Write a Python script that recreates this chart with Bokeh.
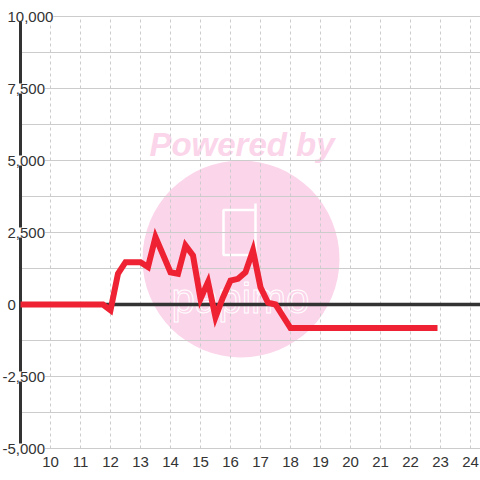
from bokeh.plotting import figure
from bokeh.models import Range1d, FixedTicker, Grid, LabelSet, ColumnDataSource
from bokeh.core.properties import value
from bokeh.embed import file_html
from bokeh.resources import INLINE

# ---- data ----
hours = [9, 11.75, 12, 12.25, 12.5, 13, 13.25, 13.5, 14, 14.25, 14.5, 14.75, 15, 15.25,
         15.5, 15.75, 16, 16.25, 16.5, 16.75, 17, 17.25, 17.5, 18, 22.9]
balance = [0, 0, -200, 1070, 1470, 1470, 1300, 2340, 1120, 1070, 2050, 1700, 200, 780,
           -440, 250, 830, 890, 1120, 1880, 600, 60, 0, -820, -820]
x_ticks = list(range(10, 25))
x_labels = [str(t) for t in x_ticks]
y_label_values = [-5000, -2500, 0, 2500, 5000, 7500, 10000]
y_labels = ["-5,000", "-2,500", "0", "2,500", "5,000", "7,500", "10,000"]
y_grid_step = 1250

# ---- layout constants ----
W, H = 480, 480
AXIS_PX = 20
X_AXIS = 9
PX_PER_X = 30.0
Y_MIN, Y_MAX = -5000, 10000
Y_TOP_PX, Y_BOTTOM_PX = 16, 448
UNITS_PER_PX_Y = (Y_MAX - Y_MIN) / (Y_BOTTOM_PX - Y_TOP_PX)
X0 = X_AXIS - AXIS_PX / PX_PER_X
X1 = X0 + W / PX_PER_X
Y1 = Y_MAX + Y_TOP_PX * UNITS_PER_PX_Y
Y0 = Y_MIN - (H - Y_BOTTOM_PX) * UNITS_PER_PX_Y

RED = "#ee2233"
PINK = "#fbd5ea"
TEXT = "#333333"
GRID = "#cccccc"
FONT = "Liberation Sans"


def px_x(px):
    return X0 + px / PX_PER_X


def px_y(py):
    return Y1 - py * UNITS_PER_PX_Y


p = figure(width=W, height=H, output_backend="svg", toolbar_location=None,
           x_range=Range1d(X0, X1), y_range=Range1d(Y0, Y1),
           x_axis_location=None, y_axis_location=None,
           min_border=0)
p.outline_line_color = None
p.background_fill_color = "white"
p.border_fill_color = "white"

for g in p.grid:
    g.visible = False

# watermark (behind the grid)
p.scatter(x=[px_x(240.5)], y=[px_y(258.5)], size=197, marker="circle",
          fill_color=PINK, line_color=None, level="image")
p.text(x=[px_x(241.5)], y=[px_y(144)], text=["Powered by"],
       text_font=value(FONT), text_font_style="bold italic", text_font_size="33px",
       text_color=PINK, text_align="center", text_baseline="alphabetic", level="image")
p.rect(x=[px_x(239)], y=[px_y(232)], width=32, height=45,
       width_units="screen", height_units="screen",
       fill_color=None, line_color="white", line_width=2.5, level="image")
p.segment(x0=[px_x(255)], y0=[px_y(210)], x1=[px_x(255)], y1=[px_y(203)],
          line_color="white", line_width=2.5, level="image")
p.text(x=[px_x(240)], y=[px_y(298)], text=["papimo"],
       text_font=value(FONT), text_font_size="42px",
       text_color=PINK, text_outline_color="white",
       text_align="center", text_baseline="alphabetic", level="image")

# grids
n_steps = int((Y_MAX - Y_MIN) / y_grid_step)
ygrid = Grid(dimension=1,
             ticker=FixedTicker(ticks=[Y_MIN + i * y_grid_step for i in range(n_steps + 1)]),
             grid_line_color=GRID, grid_line_width=1, cross_bounds=(X_AXIS, X1))
xgrid = Grid(dimension=0, ticker=FixedTicker(ticks=x_ticks),
             grid_line_color=GRID, grid_line_width=1, grid_line_dash="3 3",
             cross_bounds=(Y_MIN, Y_MAX))
p.add_layout(ygrid, "center")
p.add_layout(xgrid, "center")

# axis lines (zero line and y axis)
p.segment(x0=[X_AXIS], y0=[0], x1=[X1], y1=[0], line_color=TEXT, line_width=3.5)
p.segment(x0=[X_AXIS], y0=[Y_MIN], x1=[X_AXIS], y1=[Y_MAX], line_color=TEXT, line_width=3)

# data line
p.line(hours, balance, line_color=RED, line_width=6, line_join="miter")

# x labels
xsrc = ColumnDataSource(dict(x=x_ticks, y=[Y_MIN] * len(x_ticks), text=x_labels))
p.add_layout(LabelSet(x="x", y="y", text="text", source=xsrc, y_offset=-13,
                      text_align="center", text_baseline="middle",
                      text_font=value(FONT), text_font_size="15px", text_color=TEXT))

# y labels with white background overlapping the axis
offsets = [-18 if v < 0 else -13 for v in y_label_values]
ysrc = ColumnDataSource(dict(x=[X_AXIS] * len(y_label_values), y=y_label_values,
                             text=y_labels, xo=offsets))
p.add_layout(LabelSet(x="x", y="y", text="text", source=ysrc, x_offset="xo",
                      text_align="left", text_baseline="middle",
                      text_font=value(FONT), text_font_size="15px", text_color=TEXT,
                      background_fill_color="white"))

open("out.html", "w").write(file_html(p, INLINE))
